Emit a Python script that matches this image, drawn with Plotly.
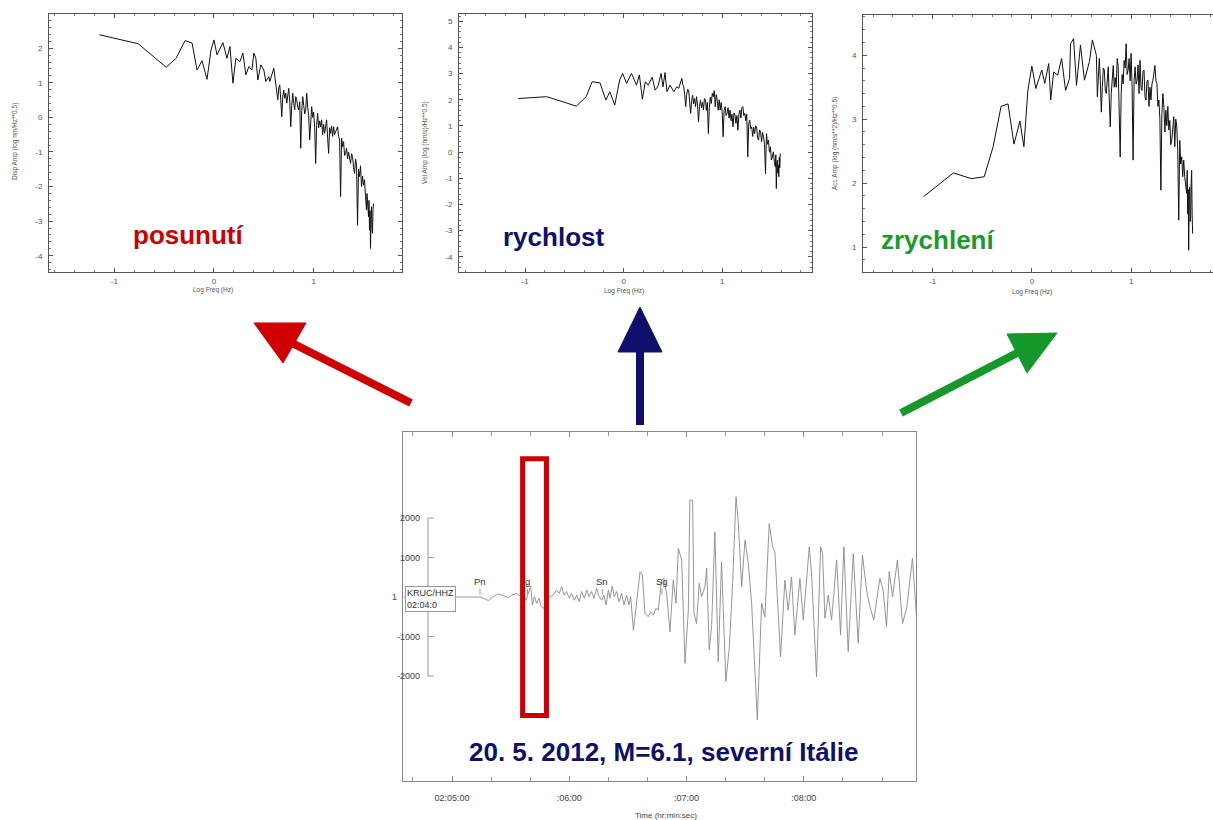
import plotly.graph_objects as go

W, H = 1213, 820

# ---------------- spectra: log10 frequency (Hz) vs log10 amplitude ----------------
disp_logf = [-1.15, -0.76, -0.48, -0.38, -0.29, -0.22, -0.17, -0.12, -0.07, -0.03,
             0.00, 0.03, 0.09, 0.13, 0.16, 0.19, 0.22, 0.26, 0.29, 0.32,
             0.35, 0.38, 0.40, 0.42, 0.44, 0.47, 0.50, 0.52, 0.55, 0.56,
             0.60, 0.61, 0.62, 0.63, 0.64, 0.65, 0.66, 0.67, 0.68, 0.69,
             0.70, 0.71, 0.72, 0.73, 0.74, 0.75, 0.76, 0.77, 0.78, 0.79,
             0.80, 0.81, 0.82, 0.83, 0.84, 0.85, 0.86, 0.87, 0.88, 0.89,
             0.90, 0.91, 0.92, 0.93, 0.94, 0.95, 0.96, 0.97, 0.98, 0.99,
             1.00, 1.01, 1.02, 1.03, 1.04, 1.05, 1.06, 1.07, 1.08, 1.09,
             1.10, 1.11, 1.12, 1.13, 1.14, 1.15, 1.16, 1.17, 1.18, 1.19,
             1.20, 1.21, 1.22, 1.23, 1.24, 1.25, 1.26, 1.27, 1.28, 1.29,
             1.30, 1.31, 1.32, 1.33, 1.34, 1.35, 1.36, 1.37, 1.38, 1.39,
             1.40, 1.41, 1.42, 1.43, 1.44, 1.45, 1.46, 1.47, 1.48, 1.49,
             1.50, 1.51, 1.52, 1.53, 1.535, 1.54, 1.55, 1.555, 1.56, 1.565,
             1.57, 1.575, 1.58, 1.585, 1.59, 1.595, 1.60]
disp_amp = [2.39, 2.13, 1.45, 1.71, 2.22, 2.15, 1.37, 1.64, 1.10, 1.95,
            2.24, 1.81, 2.16, 1.71, 2.05, 0.99, 1.71, 1.61, 1.86, 1.23,
            1.47, 1.37, 1.86, 1.71, 1.08, 1.52, 1.37, 1.04, 1.18, 1.04,
            1.42, 1.20, 1.08, 0.80, 0.51, 0.85, 0.94, 0.50, 0.02, 0.60,
            0.79, 0.55, 0.70, 0.41, 0.65, 0.84, 0.45, -0.27, 0.35, 0.70,
            0.40, 0.22, 0.60, 0.51, 0.30, 0.22, 0.45, -0.89, 0.20, 0.60,
            0.35, 0.10, 0.22, 0.70, 0.30, 0.05, -0.65, 0.10, 0.31, 0.00,
            0.15, -0.30, -1.33, -0.20, 0.12, -0.30, -0.10, -0.27, -0.07, -0.50,
            -0.20, -0.46, -0.15, -0.07, -0.60, -1.04, -0.30, -0.46, -0.25, -0.55,
            -0.27, -0.50, -0.41, -0.30, -0.27, -0.55, -0.65, -2.29, -0.60, -0.85,
            -0.70, -1.10, -1.04, -0.89, -1.20, -1.00, -1.23, -1.33, -1.05, -1.13,
            -1.45, -1.62, -1.20, -1.38, -3.12, -1.50, -1.71, -1.40, -2.00, -1.70,
            -1.96, -1.80, -2.29, -2.68, -2.20, -2.60, -2.87, -2.40, -3.26, -2.70,
            -3.79, -2.90, -2.58, -3.20, -3.35, -2.70, -2.49]

vel_logf = [-1.07, -0.78, -0.48, -0.38, -0.32, -0.24, -0.18, -0.14, -0.09, -0.04,
            -0.01, 0.03, 0.08, 0.13, 0.16, 0.19, 0.22, 0.25, 0.29, 0.32,
            0.35, 0.38, 0.40, 0.42, 0.44, 0.47, 0.51, 0.54, 0.56, 0.59,
            0.60, 0.61, 0.62, 0.63, 0.64, 0.65, 0.66, 0.67, 0.68, 0.69,
            0.70, 0.71, 0.72, 0.73, 0.74, 0.75, 0.76, 0.77, 0.78, 0.79,
            0.80, 0.81, 0.82, 0.83, 0.84, 0.85, 0.86, 0.87, 0.88, 0.89,
            0.90, 0.91, 0.92, 0.93, 0.94, 0.95, 0.96, 0.97, 0.98, 0.99,
            1.00, 1.01, 1.02, 1.03, 1.04, 1.05, 1.06, 1.07, 1.08, 1.09,
            1.10, 1.11, 1.12, 1.13, 1.14, 1.15, 1.16, 1.17, 1.18, 1.19,
            1.20, 1.21, 1.22, 1.23, 1.24, 1.25, 1.26, 1.27, 1.28, 1.29,
            1.30, 1.31, 1.32, 1.33, 1.34, 1.35, 1.36, 1.37, 1.38, 1.39,
            1.40, 1.41, 1.42, 1.43, 1.44, 1.45, 1.46, 1.47, 1.48, 1.49,
            1.50, 1.51, 1.52, 1.53, 1.54, 1.545, 1.55, 1.555, 1.56, 1.565,
            1.57, 1.575, 1.58, 1.585, 1.59]
vel_amp = [2.05, 2.12, 1.76, 2.12, 2.69, 2.65, 1.99, 2.31, 1.80, 2.76,
           3.01, 2.63, 3.01, 2.56, 2.95, 2.02, 2.69, 2.56, 2.86, 2.37,
           2.53, 3.01, 2.50, 3.04, 2.31, 2.56, 2.31, 2.50, 2.44, 2.82,
           2.60, 2.50, 2.20, 1.74, 2.20, 2.40, 2.37, 1.90, 1.48, 1.95,
           2.18, 1.85, 2.05, 1.74, 2.12, 1.80, 1.16, 1.75, 1.99, 1.70,
           1.90, 1.61, 2.05, 1.99, 1.60, 1.90, 0.71, 1.70, 2.10, 1.86,
           2.25, 2.12, 2.35, 1.74, 2.20, 1.99, 1.60, 2.00, 1.61, 1.90,
           1.55, 0.59, 1.60, 1.74, 1.40, 1.48, 1.70, 1.30, 1.61, 1.20,
           1.45, 0.97, 1.50, 1.42, 1.10, 1.40, 0.84, 1.45, 1.61, 1.30,
           1.70, 1.74, 1.40, 1.48, 1.20, 1.45, -0.18, 1.10, 1.22, 0.90,
           0.97, 0.60, 0.95, 0.71, 1.00, 0.97, 0.55, 0.46, 0.85, 0.78,
           0.40, 0.75, 0.59, 0.30, -0.82, 0.71, 0.30, 0.46, 0.00, 0.20,
           -0.30, -0.18, 0.01, -0.40, -0.56, -0.10, -1.39, -0.40, -0.31, -0.80,
           -0.50, -0.94, -0.20, -0.60, -0.05]

acc_logf = [-1.09, -0.79, -0.61, -0.48, -0.39, -0.31, -0.24, -0.18, -0.12, -0.08,
            -0.04, 0.00, 0.04, 0.10, 0.13, 0.17, 0.19, 0.22, 0.26, 0.30,
            0.34, 0.38, 0.39, 0.42, 0.45, 0.49, 0.53, 0.58, 0.61,
            0.65, 0.66, 0.67, 0.68, 0.69, 0.70, 0.71, 0.72, 0.73, 0.74,
            0.75, 0.76, 0.77, 0.78, 0.79, 0.80, 0.81, 0.82, 0.83, 0.84,
            0.85, 0.86, 0.87, 0.88, 0.89, 0.90, 0.91, 0.92, 0.93, 0.94,
            0.95, 0.96, 0.97, 0.98, 0.99, 1.00, 1.01, 1.02, 1.03, 1.04,
            1.05, 1.06, 1.07, 1.08, 1.09, 1.10, 1.11, 1.12, 1.13, 1.14,
            1.15, 1.16, 1.17, 1.18, 1.19, 1.20, 1.21, 1.22, 1.23, 1.24,
            1.25, 1.26, 1.27, 1.28, 1.29, 1.30, 1.31, 1.32, 1.33, 1.34,
            1.35, 1.36, 1.37, 1.38, 1.39, 1.40, 1.41, 1.42, 1.43, 1.44,
            1.45, 1.46, 1.47, 1.48, 1.49, 1.50, 1.51, 1.52, 1.53, 1.54,
            1.55, 1.56, 1.565, 1.57, 1.575, 1.58, 1.585, 1.59, 1.595, 1.60,
            1.605, 1.61, 1.615, 1.62]
acc_amp = [1.79, 2.16, 2.07, 2.10, 2.57, 3.20, 3.24, 2.61, 2.97, 2.57,
           3.45, 3.83, 3.48, 3.77, 3.56, 3.87, 3.30, 3.74, 3.69, 3.95,
           3.45, 3.64, 4.18, 4.26, 3.53, 4.16, 3.61, 3.90, 4.24,
           4.00, 3.35, 3.70, 3.95, 3.60, 3.11, 3.50, 3.80, 3.77, 3.45,
           3.40, 3.70, 3.82, 3.30, 2.88, 3.40, 3.75, 3.84, 3.50, 3.65,
           3.50, 3.95, 3.82, 3.30, 2.41, 3.40, 3.70, 3.55, 3.92, 3.80,
           4.18, 3.70, 3.77, 3.95, 3.60, 4.03, 3.50, 2.36, 3.60, 3.82,
           3.55, 3.61, 3.85, 3.40, 3.92, 3.50, 3.45, 3.75, 3.77, 3.35,
           3.30, 3.60, 3.61, 3.20, 3.50, 3.30, 3.55, 3.61, 3.75, 3.84,
           3.60, 3.56, 3.20, 3.30, 3.00, 1.89, 3.09, 3.40, 3.19, 2.80,
           3.14, 2.90, 3.20, 2.83, 2.98, 2.60, 2.67, 2.90, 3.04, 2.57,
           3.00, 2.88, 2.50, 1.42, 2.67, 2.30, 2.41, 2.10, 2.36, 2.10,
           1.90, 1.84, 2.20, 1.52, 1.90, 0.95, 1.70, 1.94, 1.40, 1.47,
           2.00, 2.20, 1.50, 1.21]

# ---------------- seismogram KRUC/HHZ: seconds after 02:04:00, counts ----------------
seis_t = [35.4, 74.3, 76.0, 78.6, 81.1, 83.7, 86.3, 88.8, 90.5, 93.1,
          94.8, 95.6, 96.5, 97.8, 99.0, 100.2, 101.1, 102.1, 103.3, 104.5,
          105.5, 106.7, 107.7, 108.8, 110.1, 111.8, 113.5, 114.9, 116.1, 117.3,
          118.6, 120.0, 121.2, 122.6, 123.8, 125.1, 126.3, 127.7, 128.9, 130.1,
          131.4, 132.6, 134.0, 135.2, 136.6, 137.7, 138.8, 140.0, 140.8, 142.0,
          143.0, 144.2, 145.4, 146.8, 148.0, 149.3, 150.5, 151.4, 152.8, 154.0,
          155.0, 156.2, 157.4, 158.7, 160.4, 161.6, 163.0, 164.3, 165.5, 167.2,
          168.4, 169.8, 171.5, 173.2, 174.6, 175.8, 177.5, 179.2, 180.9, 181.7,
          183.1, 183.8, 185.1, 186.5, 187.7, 189.4, 190.3, 191.6, 192.8, 194.5,
          196.2, 197.9, 200.1, 201.9, 203.6, 205.3, 206.5, 208.2, 209.9, 211.6,
          213.3, 216.2, 218.4, 220.1, 222.3, 224.0, 225.2, 228.1, 230.3, 232.0,
          233.7, 235.4, 238.0, 239.7, 242.8, 244.0, 246.5, 248.6, 249.6, 250.8,
          252.5, 254.2, 256.8, 258.8, 260.5, 262.7, 265.3, 267.8, 270.0, 272.1,
          273.8, 275.8, 278.9, 280.6, 282.3, 283.7, 285.4, 287.9, 290.5, 292.6,
          295.6, 298.0]
seis_amp = [0, 0, -30, -90, 10, 80, 30, -10, 50, 90,
            30, 110, 50, -80, 90, 280, -200, 10, -160, -30,
            -230, -290, -180, -80, 10, 50, 180, 90, 260, 50,
            140, -30, 90, -80, 50, -120, 140, -30, 180, 10,
            140, -30, 220, 10, -80, 50, -200, 180, -30, 280,
            10, 140, -120, 90, -200, 50, -200, 10, -840, -330,
            90, 640, 560, -410, -500, -370, -460, -290, -330, 430,
            470, 90, -880, 430, -160, 1230, 940, -1680, -330, 2450,
            2450, -410, -670, 350, 10, 260, 730, -1340, -750, 1650,
            -1640, 890, -2140, -1260, 390, 2540, 1860, 260, 1440, 850,
            -160, -3110, -160, -500, 1860, 1270, 1150, -1510, 430, -330,
            510, -960, 470, -580, 1270, 560, -2020, 1270, 1100, -540,
            50, -580, 940, -960, 1270, -1380, 1100, -1170, 1060, 180,
            -240, -580, 470, 180, -750, 640, 10, 940, -670, -290,
            980, -750]
assert len(seis_t) == len(seis_amp)
assert len(disp_logf) == len(disp_amp)
assert len(vel_logf) == len(vel_amp)
assert len(acc_logf) == len(acc_amp)

time_ticks = [60, 120, 180, 240]
time_labels = ["02:05:00", ":06:00", ":07:00", ":08:00"]
count_ticks = [2000, 1000, -1000, -2000]
count_labels = ["2000", "1000", "-1000", "-2000"]
zero_label = "1"

phase_names = ["Pn", "g", "Sn", "Sg"]
phase_t = [74.3, 98.6, 136.9, 167.4]

window_t = [96.1, 108.3]          # highlighted analysis window (s)

station = "KRUC/HHZ<br>02:04:0"
event_title = "20. 5. 2012, M=6.1, severní Itálie"

RED = "#cc0000"
NAVY = "#0f0f6e"
GREEN = "#1a9a2c"
BOLD = "Liberation Sans, Arial, sans-serif"
PLAIN = "Liberation Sans, Arial"


def px(x):
    return x / W


def py(y):
    return 1 - y / H


fig = go.Figure()

for xs, ys, xa, ya in [(disp_logf, disp_amp, "x", "y"),
                       (vel_logf, vel_amp, "x2", "y2"),
                       (acc_logf, acc_amp, "x3", "y3")]:
    fig.add_trace(go.Scatter(x=xs, y=ys, mode="lines", xaxis=xa, yaxis=ya,
                             line=dict(color="#111111", width=1),
                             showlegend=False, hoverinfo="skip"))

fig.add_trace(go.Scatter(x=seis_t, y=seis_amp, mode="lines", xaxis="x4", yaxis="y4",
                         line=dict(color="#8a8a8a", width=0.9),
                         showlegend=False, hoverinfo="skip"))

tickfont = dict(family=PLAIN, size=8, color="#555555")


def spec_x(dom, rng, anchor):
    return dict(domain=dom, range=rng, anchor=anchor, showline=True, linecolor="#555555",
                linewidth=1, mirror="ticks", ticks="inside", ticklen=4, tickcolor="#555555",
                tickmode="array", tickvals=[-1, 0, 1], ticktext=["-1", "0", "1"],
                minor=dict(tickmode="linear", tick0=0, dtick=0.2, ticks="inside",
                           ticklen=2, tickcolor="#777777"),
                tickfont=tickfont, showgrid=False, zeroline=False, ticklabelstandoff=1)


def spec_y(dom, rng, anchor, vals, mirror=True):
    return dict(domain=dom, range=rng, anchor=anchor, showline=True, linecolor="#555555",
                linewidth=1, mirror="ticks" if mirror else False, ticks="inside", ticklen=4,
                tickcolor="#555555", tickmode="array", tickvals=vals,
                ticktext=[str(v) for v in vals],
                minor=dict(tickmode="linear", tick0=0, dtick=0.2, ticks="inside",
                           ticklen=2, tickcolor="#777777"),
                tickfont=tickfont, showgrid=False, zeroline=False, ticklabelstandoff=4)


row_y = [py(272), py(14)]
fig.update_layout(
    xaxis=spec_x([px(49), px(402)], [-1.655, 1.886], "y"),
    yaxis=spec_y(row_y, [-4.47, 2.99], "x", list(range(-4, 3))),
    xaxis2=spec_x([px(459), px(812)], [-1.671, 1.912], "y2"),
    yaxis2=spec_y(row_y, [-4.58, 5.28], "x2", list(range(-4, 6))),
    xaxis3=spec_x([px(863), 1.0], [-1.701, 1.825], "y3"),
    yaxis3=spec_y([py(272), py(15)], [0.61, 4.63], "x3", [1, 2, 3, 4], mirror=False),
    xaxis4=dict(domain=[px(403), px(916)], range=[34.9, 297.4], anchor="y4",
                showline=True, linecolor="#888888", linewidth=1, mirror="ticks",
                ticks="inside", ticklen=5, tickcolor="#888888",
                tickmode="array", tickvals=time_ticks, ticktext=time_labels,
                minor=dict(tickmode="linear", tick0=0, dtick=20, ticks="inside",
                           ticklen=4, tickcolor="#999999"),
                tickfont=dict(family=PLAIN, size=9, color="#444444"),
                ticklabelstandoff=8, showgrid=False, zeroline=False),
    yaxis4=dict(domain=[py(781), py(432)], range=[-4660, 4180], anchor="x4",
                showline=True, linecolor="#888888", linewidth=1, mirror=True,
                ticks="", showticklabels=False, showgrid=False, zeroline=False),
)

ann = []


def paper_text(xpix, ypix, text, font, **kw):
    d = dict(x=px(xpix), y=py(ypix), xref="paper", yref="paper", text=text,
             showarrow=False, font=font, xanchor="center", yanchor="middle")
    d.update(kw)
    ann.append(d)


small = dict(family=PLAIN, size=6.5, color="#555555")
for xpix, ypix, text in [(15, 142, "Disp Amp (log nm/Hz**0.5)"),
                         (425, 143, "Vel Amp (log (nm/s)/Hz**0.5)"),
                         (835, 144, "Acc Amp (log (nm/s**2)/Hz**0.5)")]:
    paper_text(xpix, ypix, text, small, textangle=-90)
for xpix, ypix in [(213, 290), (624, 291), (1032, 292)]:
    paper_text(xpix, ypix, "Log Freq (Hz)", small)

for xpix, ypix, text, col in [(188, 235, "posunutí", RED),
                              (553, 237, "rychlost", NAVY),
                              (937, 240, "zrychlení", GREEN)]:
    paper_text(xpix, ypix, "<b>%s</b>" % text, dict(family=BOLD, size=26, color=col))

paper_text(664, 752, "<b>%s</b>" % event_title, dict(family=BOLD, size=26, color=NAVY))
paper_text(666, 815, "Time (hr:min:sec)", dict(family=PLAIN, size=8, color="#444444"))

# count scale drawn inside the trace frame
axis_t = 47.7
scale_font = dict(family=PLAIN, size=9, color="#444444")
for v, lab in zip(count_ticks, count_labels):
    ann.append(dict(x=44.6, y=v, xref="x4", yref="y4", text=lab, xanchor="right",
                    yanchor="middle", showarrow=False, font=scale_font))
paper_text(399, 597, zero_label, scale_font, xanchor="right")

for name, t in zip(phase_names, phase_t):
    ann.append(dict(x=t, y=200, xref="x4", yref="y4", text=name, yanchor="bottom",
                    xanchor="center", showarrow=False,
                    font=dict(family=PLAIN, size=9.5, color="#333333")))

paper_text(405, 599, station, dict(family=PLAIN, size=9, color="#333333"),
           xanchor="left", align="left", bgcolor="white", bordercolor="#999999",
           borderwidth=1, borderpad=1)

shapes = []
shapes.append(dict(type="line", xref="x4", yref="y4", x0=axis_t, x1=axis_t,
                   y0=-2000, y1=2000, line=dict(color="#999999", width=1)))
for v in count_ticks + [0]:
    shapes.append(dict(type="line", xref="x4", yref="y4", x0=axis_t, x1=axis_t + 3,
                       y0=v, y1=v, line=dict(color="#999999", width=1)))
for t in phase_t:
    shapes.append(dict(type="line", xref="x4", yref="y4", x0=t, x1=t, y0=60, y1=200,
                       line=dict(color="#999999", width=1)))

shapes.append(dict(type="rect", xref="x4", yref="y4", x0=window_t[0], x1=window_t[1],
                   y0=-3000, y1=3500, line=dict(color=RED, width=5)))


def arrow(tail, neck, tip, c1, c2, col):
    shapes.append(dict(type="line", xref="paper", yref="paper",
                       x0=px(tail[0]), y0=py(tail[1]), x1=px(neck[0]), y1=py(neck[1]),
                       line=dict(color=col, width=8)))
    path = "M %f,%f L %f,%f L %f,%f Z" % (px(tip[0]), py(tip[1]), px(c1[0]), py(c1[1]),
                                         px(c2[0]), py(c2[1]))
    shapes.append(dict(type="path", xref="paper", yref="paper", path=path,
                       fillcolor=col, line=dict(color=col, width=1)))


arrow((411, 403), (292, 343), (254, 323), (306, 323), (283, 363), "#d00000")
arrow((640, 425), (640, 348), (640, 307), (618, 352), (662, 352), NAVY)
arrow((901, 413), (1019, 352), (1057, 333), (1007, 334), (1027, 373), "#15982a")

fig.update_layout(width=W, height=H, autosize=False,
                  margin=dict(l=0, r=0, t=0, b=0),
                  paper_bgcolor="white", plot_bgcolor="white",
                  annotations=ann, shapes=shapes, showlegend=False)

fig.write_html("out.html")
